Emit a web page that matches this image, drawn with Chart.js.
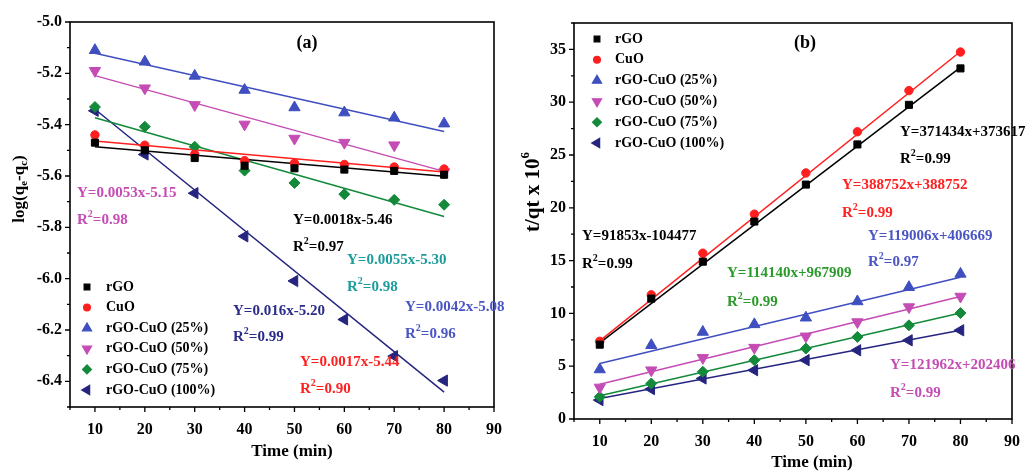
<!DOCTYPE html>
<html lang="en">
<head>
  <meta charset="UTF-8">
  <title>Kinetics plots (a) and (b)</title>
  <style>
    body { margin: 0; background: #fff; }
    .panel { position: absolute; top: 0; height: 472px; }
    #panel-a { left: 0; width: 515px; }
    #panel-b { left: 515px; width: 518px; }
  </style>
</head>
<body>
  <div class="panel" id="panel-a"><canvas id="chart-a"></canvas></div>
  <div class="panel" id="panel-b"><canvas id="chart-b"></canvas></div>

  <script src="https://cdn.jsdelivr.net/npm/chart.js"></script>
  <script>
    // ---- data ----
    const timeMin = [10, 20, 30, 40, 50, 60, 70, 80];
    const seriesNames = ['rGO', 'CuO', 'rGO-CuO (25%)', 'rGO-CuO (50%)', 'rGO-CuO (75%)', 'rGO-CuO (100%)'];

    // panel (a): log(qe - qt)
    const logRGO   = [-5.47, -5.50, -5.53, -5.56, -5.57, -5.575, -5.58, -5.595];
    const logCuO   = [-5.44, -5.48, -5.515, -5.54, -5.55, -5.555, -5.565, -5.573];
    const log25    = [-5.11, -5.155, -5.21, -5.265, -5.333, -5.353, -5.373, -5.396];
    const log50    = [-5.19, -5.258, -5.323, -5.399, -5.454, -5.47, -5.48, -5.585];
    const log75    = [-5.331, -5.408, -5.486, -5.579, -5.627, -5.671, -5.693, -5.712];
    const log100   = [-5.346, -5.516, -5.667, -5.835, -6.009, -6.159, -6.302, -6.397];

    // panel (b): t/qt x 10^6
    const tqRGO    = [7.04, 11.4, 14.9, 18.7, 22.2, 26.0, 29.75, 33.2];
    const tqCuO    = [7.36, 11.76, 15.7, 19.4, 23.3, 27.2, 31.1, 34.75];
    const tq25     = [4.69, 6.98, 8.24, 8.96, 9.59, 11.13, 12.48, 13.74];
    const tq50     = [2.99, 4.62, 5.79, 6.76, 7.83, 9.18, 10.6, 11.6];
    const tq75     = [2.1, 3.36, 4.47, 5.57, 6.67, 7.77, 8.87, 10.03];
    const tq100    = [1.79, 2.83, 3.84, 4.62, 5.57, 6.51, 7.45, 8.4];

    // fitted line end points (at t = 10 and t = 80)
    const fitX = [10, 80];
    const fitA = [[-5.486, -5.601], [-5.464, -5.584], [-5.122, -5.427], [-5.209, -5.582], [-5.373, -5.758], [-5.34, -6.442]];
    const fitB = [[7.2, 33.3], [7.4, 34.8], [5.25, 13.43], [3.3, 11.6], [2.2, 10.03], [1.95, 8.4]];

    // equations written on the plots
    const eqA = ['Y=0.0053x-5.15', 'Y=0.0018x-5.46', 'Y=0.0055x-5.30', 'Y=0.016x-5.20', 'Y=0.0042x-5.08', 'Y=0.0017x-5.44'];
    const r2A = ['0.98', '0.97', '0.98', '0.99', '0.96', '0.90'];
    const eqB = ['Y=371434x+373617', 'Y=388752x+388752', 'Y=91853x-104477', 'Y=119006x+406669', 'Y=114140x+967909', 'Y=121962x+202406'];
    const r2B = ['0.99', '0.99', '0.99', '0.97', '0.99', '0.99'];

    // ticks
    const xTicks = [5, 10, 15, 20, 25, 30, 35, 40, 45, 50, 55, 60, 65, 70, 75, 80, 85, 90];
    const yTicksA = [-6.5, -6.4, -6.3, -6.2, -6.1, -6.0, -5.9, -5.8, -5.7, -5.6, -5.5, -5.4, -5.3, -5.2, -5.1, -5.0];
    const yTicksB = [0, 2.5, 5, 7.5, 10, 12.5, 15, 17.5, 20, 22.5, 25, 27.5, 30, 32.5, 35, 37.5];

    // ---- styling ----
    const FONT = '"Liberation Serif", "Times New Roman", serif';
    const colors = ['#000000', '#ff1f1f', '#3f4fbf', '#c44cb4', '#138a3a', '#25257f'];
    const markers = [
      { style: 'rect', radius: 5, rotation: 0 },
      { style: 'circle', radius: 4.2, rotation: 0 },
      { style: 'triangle', radius: 6.5, rotation: 0 },
      { style: 'triangle', radius: 6.5, rotation: 180 },
      { style: 'rectRot', radius: 5.5, rotation: 0 },
      { style: 'triangle', radius: 6.5, rotation: 270 }
    ];

    function isMajor(v, step) {
      return Math.abs(v / step - Math.round(v / step)) < 1e-6;
    }

    function makeDatasets(seriesList, fits) {
      const sets = [];
      fits.forEach((f, i) => {
        sets.push({
          data: fitX.map((x, k) => ({ x: x, y: f[k] })),
          showLine: true, pointRadius: 0, borderColor: colors[i], borderWidth: 1.5, order: 2
        });
      });
      seriesList.forEach((s, i) => {
        sets.push({
          label: seriesNames[i],
          data: timeMin.map((t, k) => ({ x: t, y: s[k] })),
          showLine: false,
          pointStyle: markers[i].style, pointRadius: markers[i].radius, pointRotation: markers[i].rotation,
          backgroundColor: colors[i], borderColor: colors[i], borderWidth: 1, order: 1
        });
      });
      return sets;
    }

    // draw text made of pieces (for sub/superscripts)
    function richWidth(ctx, parts) {
      let w = 0;
      parts.forEach(p => { ctx.font = 'bold ' + p.size + 'px ' + FONT; w += ctx.measureText(p.t).width; });
      return w;
    }
    function drawRich(ctx, parts, x, y) {
      let cx = x;
      parts.forEach(p => {
        ctx.font = 'bold ' + p.size + 'px ' + FONT;
        ctx.fillText(p.t, cx, y + (p.dy || 0));
        cx += ctx.measureText(p.t).width;
      });
    }
    function r2Parts(val) {
      return [{ t: 'R', size: 15 }, { t: '2', size: 10, dy: -6 }, { t: '=' + val, size: 15 }];
    }

    const decoPlugin = {
      id: 'deco',
      afterDraw(chart, args, o) {
        const { ctx, chartArea: a, scales } = chart;
        const x = scales.x, y = scales.y;
        ctx.save();
        ctx.strokeStyle = '#000';
        ctx.lineWidth = 1.6;
        ctx.strokeRect(a.left, a.top, a.right - a.left, a.bottom - a.top);

        // tick marks, pointing out
        ctx.lineWidth = 1.3;
        ctx.beginPath();
        xTicks.forEach(v => {
          const px = x.getPixelForValue(v);
          const len = isMajor(v, 10) ? 5 : 3;
          ctx.moveTo(px, a.bottom); ctx.lineTo(px, a.bottom + len);
        });
        o.yTicks.forEach(v => {
          const py = y.getPixelForValue(v);
          const len = isMajor(v, o.yMajor) ? 5 : 3;
          ctx.moveTo(a.left, py); ctx.lineTo(a.left - len, py);
        });
        ctx.stroke();

        ctx.textBaseline = 'middle';
        ctx.textAlign = 'left';

        // legend
        seriesNames.forEach((name, i) => {
          const ly = o.legend.y + i * o.legend.dy;
          ctx.fillStyle = colors[i];
          ctx.strokeStyle = colors[i];
          Chart.helpers.drawPoint(ctx, {
            pointStyle: markers[i].style, radius: markers[i].radius * 0.8,
            rotation: markers[i].rotation, borderWidth: 1
          }, o.legend.mx, ly);
          ctx.fillStyle = '#000';
          ctx.font = 'bold 14px ' + FONT;
          ctx.fillText(name, o.legend.tx, ly);
        });

        // equations
        o.notes.forEach((n, i) => {
          ctx.fillStyle = n.color;
          drawRich(ctx, [{ t: o.eq[i], size: 15 }], n.x, n.y1);
          drawRich(ctx, r2Parts(o.r2[i]), n.x, n.y2);
        });

        // panel label
        ctx.fillStyle = '#000';
        ctx.textAlign = 'center';
        ctx.font = 'bold 18px ' + FONT;
        ctx.fillText(o.panel.text, o.panel.x, o.panel.y);

        // axis titles
        ctx.font = 'bold 17px ' + FONT;
        ctx.fillText('Time (min)', o.xTitle.x, o.xTitle.y);

        ctx.textAlign = 'left';
        ctx.translate(o.yTitle.x, o.yTitle.y);
        ctx.rotate(-Math.PI / 2);
        const w = richWidth(ctx, o.yTitle.parts);
        drawRich(ctx, o.yTitle.parts, -w / 2, 0);
        ctx.restore();
      }
    };

    function makeChart(id, seriesList, fits, s) {
      return new Chart(document.getElementById(id), {
        type: 'scatter',
        data: { datasets: makeDatasets(seriesList, fits) },
        options: {
          responsive: true,
          maintainAspectRatio: false,
          animation: false,
          layout: { padding: { top: s.padTop, right: s.padRight, left: 0, bottom: 0 } },
          plugins: { legend: { display: false }, tooltip: { enabled: false }, deco: s.deco },
          scales: {
            x: {
              type: 'linear', min: 5, max: 90,
              afterBuildTicks: sc => { sc.ticks = xTicks.map(v => ({ value: v })); },
              afterFit: sc => { sc.height = s.xHeight; },
              grid: { display: false, drawTicks: false },
              border: { display: false },
              ticks: {
                autoSkip: false, maxRotation: 0, padding: 13, color: '#000',
                font: { family: FONT, size: 16, weight: 'bold' },
                callback: v => (isMajor(v, 10) && v >= 10 ? String(v) : '')
              }
            },
            y: {
              type: 'linear', min: s.yMin, max: s.yMax,
              afterBuildTicks: sc => { sc.ticks = s.deco.yTicks.map(v => ({ value: v })); },
              afterFit: sc => { sc.width = s.yWidth; },
              grid: { display: false, drawTicks: false },
              border: { display: false },
              ticks: {
                autoSkip: false, padding: 8, color: '#000',
                font: { family: FONT, size: 16, weight: 'bold' },
                callback: v => (isMajor(v, s.deco.yMajor) ? s.fmt(v) : '')
              }
            }
          }
        },
        plugins: [decoPlugin]
      });
    }

    makeChart('chart-a', [logRGO, logCuO, log25, log50, log75, log100], fitA, {
      padTop: 22, padRight: 5, xHeight: 65, yWidth: 70, yMin: -6.5, yMax: -5.0,
      fmt: v => v.toFixed(1),
      deco: {
        yTicks: yTicksA, yMajor: 0.2,
        legend: { mx: 87, tx: 106, y: 287, dy: 20.6 },
        eq: eqA, r2: r2A,
        notes: [
          { color: '#c44cb4', x: 77, y1: 193, y2: 220 },
          { color: '#000000', x: 293, y1: 220, y2: 247 },
          { color: '#1c9c9c', x: 347, y1: 260, y2: 287 },
          { color: '#2b2b8a', x: 233, y1: 311, y2: 337 },
          { color: '#4a55c4', x: 405, y1: 307, y2: 334 },
          { color: '#ff2020', x: 300, y1: 362, y2: 389 }
        ],
        panel: { text: '(a)', x: 307, y: 43 },
        xTitle: { x: 292, y: 452 },
        yTitle: {
          x: 20, y: 189,
          parts: [{ t: 'log(q', size: 17 }, { t: 'e', size: 11, dy: 4 }, { t: '-q', size: 17 }, { t: 'c', size: 11, dy: 4 }, { t: ')', size: 17 }]
        }
      }
    });

    makeChart('chart-b', [tqRGO, tqCuO, tq25, tq50, tq75, tq100], fitB, {
      padTop: 23, padRight: 8, xHeight: 53, yWidth: 59, yMin: 0, yMax: 37.5,
      fmt: v => String(v),
      deco: {
        yTicks: yTicksB, yMajor: 5,
        legend: { mx: 82, tx: 100, y: 39, dy: 20.8 },
        eq: eqB, r2: r2B,
        notes: [
          { color: '#000000', x: 385, y1: 132, y2: 159 },
          { color: '#ff2020', x: 327, y1: 185, y2: 213 },
          { color: '#000000', x: 67, y1: 236, y2: 264 },
          { color: '#4a55c4', x: 353, y1: 236, y2: 262 },
          { color: '#2a9a2a', x: 212, y1: 273, y2: 302 },
          { color: '#c44cb4', x: 375, y1: 365, y2: 393 }
        ],
        panel: { text: '(b)', x: 290, y: 43 },
        xTitle: { x: 297, y: 463 },
        yTitle: {
          x: 19, y: 192,
          parts: [{ t: 't/qt x 10', size: 21 }, { t: '6', size: 13, dy: -8 }]
        }
      }
    });
  </script>
</body>
</html>
